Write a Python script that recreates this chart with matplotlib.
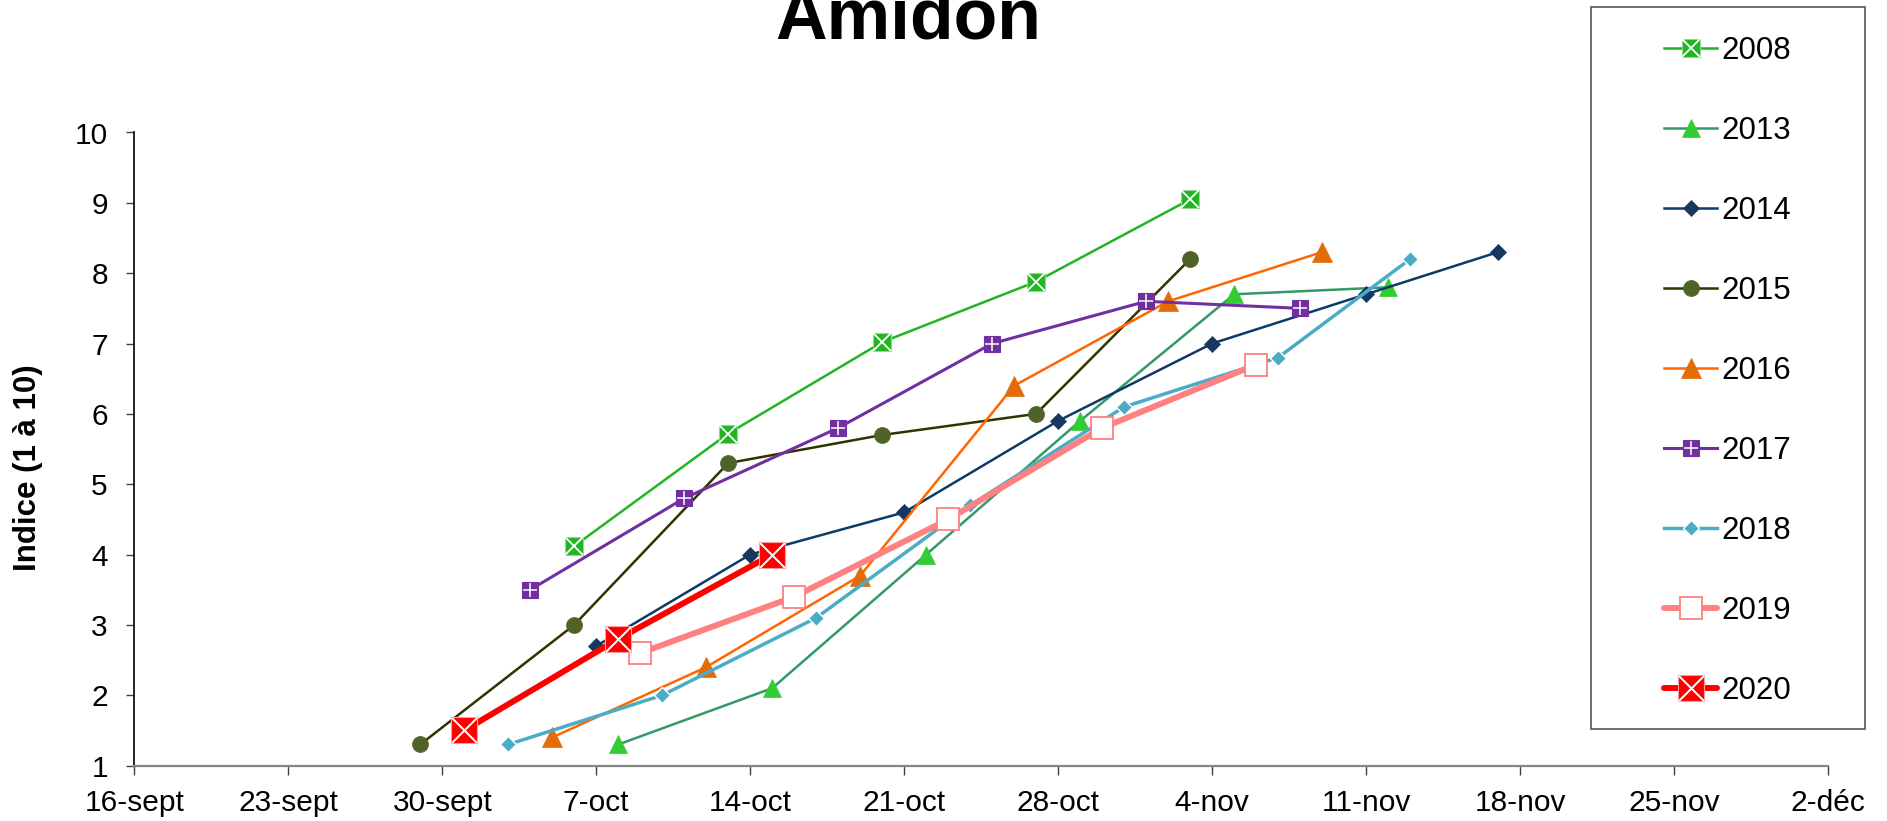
import matplotlib
matplotlib.use('Agg')
import matplotlib.pyplot as plt
import matplotlib.dates as mdates
from matplotlib.legend_handler import HandlerTuple
from matplotlib.patches import Rectangle
import pandas as pd

plt.rcParams['font.family'] = ['Liberation Sans', 'DejaVu Sans']

# ---------------- data ----------------
TITLE = 'Amidon'
YLABEL = 'Indice (1 à 10)'
YEAR_PREFIX = '2000-'   # common reference year for all seasons

tick_dates = ['09-16', '09-23', '09-30', '10-07', '10-14', '10-21',
              '10-28', '11-04', '11-11', '11-18', '11-25', '12-02']
tick_labels = ['16-sept', '23-sept', '30-sept', '7-oct', '14-oct', '21-oct',
               '28-oct', '4-nov', '11-nov', '18-nov', '25-nov', '2-déc']
y_ticks = [1, 2, 3, 4, 5, 6, 7, 8, 9, 10]

years = ['2008', '2013', '2014', '2015', '2016', '2017', '2018', '2019', '2020']

dates_2008 = ['10-06', '10-13', '10-20', '10-27', '11-03']
vals_2008 = [4.12, 5.72, 7.02, 7.88, 9.05]

dates_2013 = ['10-08', '10-15', '10-22', '10-29', '11-05', '11-12']
vals_2013 = [1.3, 2.1, 4.0, 5.9, 7.7, 7.8]

dates_2014 = ['10-07', '10-14', '10-21', '10-28', '11-04', '11-11', '11-17']
vals_2014 = [2.7, 4.0, 4.6, 5.9, 7.0, 7.7, 8.3]

dates_2015 = ['09-29', '10-06', '10-13', '10-20', '10-27', '11-03']
vals_2015 = [1.3, 3.0, 5.3, 5.7, 6.0, 8.2]

dates_2016 = ['10-05', '10-12', '10-19', '10-26', '11-02', '11-09']
vals_2016 = [1.4, 2.4, 3.7, 6.4, 7.6, 8.3]

dates_2017 = ['10-04', '10-11', '10-18', '10-25', '11-01', '11-08']
vals_2017 = [3.5, 4.8, 5.8, 7.0, 7.6, 7.5]

dates_2018 = ['10-03', '10-10', '10-17', '10-24', '10-31', '11-07', '11-13']
vals_2018 = [1.3, 2.0, 3.1, 4.7, 6.1, 6.8, 8.2]

dates_2019 = ['10-09', '10-16', '10-23', '10-30', '11-06']
vals_2019 = [2.6, 3.4, 4.5, 5.8, 6.7]

dates_2020 = ['10-01', '10-08', '10-15']
vals_2020 = [1.5, 2.8, 4.0]

series_dates = {'2008': dates_2008, '2013': dates_2013, '2014': dates_2014,
                '2015': dates_2015, '2016': dates_2016, '2017': dates_2017,
                '2018': dates_2018, '2019': dates_2019, '2020': dates_2020}
series_vals = {'2008': vals_2008, '2013': vals_2013, '2014': vals_2014,
               '2015': vals_2015, '2016': vals_2016, '2017': vals_2017,
               '2018': vals_2018, '2019': vals_2019, '2020': vals_2020}

# ---------------- styles ----------------
styles = {
    '2008': dict(color='#22B422', lw=1.8, marker='s', ms=13, mfc='#22B422', mec='#8FDC8F', mew=0.8,
                 overlay=dict(marker='x', ms=12.5, mec='white', mew=1.3)),
    '2013': dict(color='#339966', lw=1.8, marker='^', ms=12.5, mfc='#33CC33', mec='#33CC33', mew=0.5),
    '2014': dict(color='#0E3A68', lw=1.8, marker='D', ms=8.5, mfc='#17375E', mec='#17375E', mew=0.5),
    '2015': dict(color='#333300', lw=1.8, marker='o', ms=11.5, mfc='#4F6228', mec='#4F6228', mew=0.5),
    '2016': dict(color='#FF6600', lw=1.8, marker='^', ms=14, mfc='#E36C09', mec='#E36C09', mew=0.5),
    '2017': dict(color='#7030A0', lw=2.2, marker='s', ms=11.5, mfc='#7030A0', mec='#7030A0', mew=0.8,
                 overlay=dict(marker='+', ms=10.5, mec='white', mew=1.1)),
    '2018': dict(color='#4BACC6', lw=2.5, marker='D', ms=8.5, mfc='#4BACC6', mec='white', mew=1.0),
    '2019': dict(color='#FF8080', lw=4.3, marker='s', ms=16, mfc='white', mec='#FF8080', mew=1.3),
    '2020': dict(color='#FF0000', lw=4.3, marker='s', ms=18.5, mfc='#FF0000', mec='#FF9A9A', mew=0.8,
                 overlay=dict(marker='x', ms=18, mec='white', mew=1.4)),
}


def to_dt(mmdd):
    return pd.to_datetime([YEAR_PREFIX + d for d in mmdd])


W, H = 1887, 821
fig = plt.figure(figsize=(W / 100, H / 100), dpi=100)
x_left, x_right = 134.3, 1828.0
y_top, y_bot = 132.5, 765.6
ax = fig.add_axes([x_left / W, (H - y_bot) / H, (x_right - x_left) / W, (y_bot - y_top) / H])

handles = []
for i, yr in enumerate(years):
    st = styles[yr]
    x = to_dt(series_dates[yr])
    y = series_vals[yr]
    cap = 'round' if st['lw'] > 4 else 'projecting'
    ln, = ax.plot(x, y, color=st['color'], lw=st['lw'], marker=st['marker'], ms=st['ms'],
                  mfc=st['mfc'], mec=st['mec'], mew=st['mew'], zorder=2 + 2 * i,
                  solid_capstyle=cap, solid_joinstyle='round')
    if 'overlay' in st:
        ov = st['overlay']
        ol, = ax.plot(x, y, ls='none', marker=ov['marker'], ms=ov['ms'], mec=ov['mec'],
                      mew=ov['mew'], zorder=3 + 2 * i)
        handles.append((ln, ol))
    else:
        handles.append(ln)

ax.set_xlim(to_dt(['09-16'])[0], to_dt(['12-02'])[0])
ax.set_ylim(1, 10)
ax.set_xticks(to_dt(tick_dates))
ax.set_xticklabels(tick_labels)
ax.set_yticks(y_ticks)
ax.set_yticklabels([str(v) for v in y_ticks])

for s in ['top', 'right']:
    ax.spines[s].set_visible(False)
ax.spines['left'].set_color('black')
ax.spines['left'].set_linewidth(1.2)
ax.spines['bottom'].set_color('#868686')
ax.spines['bottom'].set_linewidth(1.6)

ax.tick_params(axis='x', direction='out', length=6.2, width=1.0, color='#404040',
               labelsize=21.5, pad=11)
ax.tick_params(axis='y', direction='out', length=6.0, width=1.0, color='#404040',
               labelsize=21.5, pad=13)

# title and axis title
fig.text(908.5 / W, 1 - 38.3 / H, TITLE, ha='center', va='baseline',
         fontsize=51.5, fontweight='bold')
fig.text(28 / W, 1 - 467.5 / H, YLABEL, ha='center', va='center', rotation=90,
         fontsize=22.5, fontweight='bold')

# legend
fs_leg = 22.5
leg = fig.legend(handles, years, loc='upper left',
                 bbox_to_anchor=(1664 / W, 1 - 36 / H), bbox_transform=fig.transFigure,
                 frameon=False, borderpad=0, borderaxespad=0,
                 handlelength=1.70, handletextpad=0.15, labelspacing=1.60,
                 fontsize=fs_leg, numpoints=1,
                 handler_map={tuple: HandlerTuple(ndivide=1)})
box = Rectangle((1591 / W, 1 - 729 / H), (1865 - 1591) / W, (729 - 7) / H,
                transform=fig.transFigure, fill=False, edgecolor='#555555', lw=1.2)
fig.add_artist(box)

fig.savefig('out.png', dpi=100)
